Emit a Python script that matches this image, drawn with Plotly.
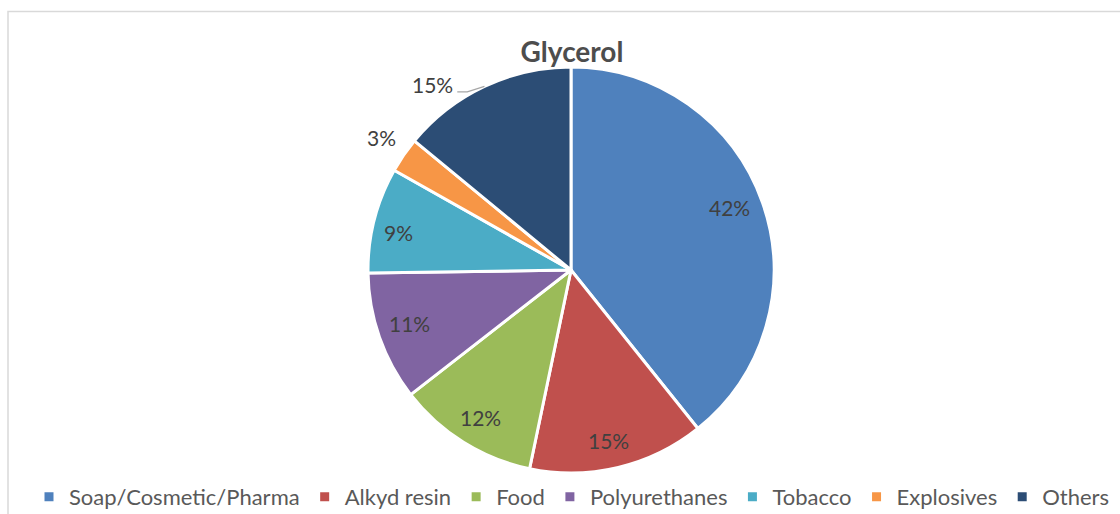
import math
import plotly.graph_objects as go

# Glycerol end-use shares (percent)
categories = ["Soap/Cosmetic/Pharma", "Alkyd resin", "Food", "Polyurethanes",
              "Tobacco", "Explosives", "Others"]
shares = [42, 15, 12, 11, 9, 3, 15]
colors = ["#4F81BD", "#C0504D", "#9BBB59", "#8064A2", "#4BACC6", "#F79646", "#2C4D75"]

# data-label placement: radial factor (x radius) and angular nudge (degrees)
label_radius = [0.84, 0.86, 0.85, 0.84, 0.87, 1.14, 1.14]
label_nudge = [-2, 1, -0.5, 1, -2, 0.5, -11.6]
leader_line = [False, False, False, False, False, False, True]

W, H = 1120, 514
cx, cy, R = 571, 270, 203
LABEL_FONT = dict(family="Lato", size=21, color="#404040")

fig = go.Figure(go.Pie(
    labels=categories,
    values=shares,
    sort=False,
    direction="clockwise",
    rotation=0,
    marker=dict(colors=colors, line=dict(color="white", width=3)),
    textposition="none",
    hoverinfo="label+value",
    domain=dict(x=[(cx - R) / W, (cx + R) / W], y=[1 - (cy + R) / H, 1 - (cy - R) / H]),
))


def to_paper(px, py):
    return px / W, 1 - py / H


# value labels placed around the pie at each slice's mid-angle
total = sum(shares)
annotations = []
shapes = []
cum = 0
for val, rf, nudge, lead in zip(shares, label_radius, label_nudge, leader_line):
    mid = (cum + val / 2) / total * 360
    cum += val
    ang = math.radians(mid + nudge)
    lx = cx + rf * R * math.sin(ang)
    ly = cy - rf * R * math.cos(ang)
    px, py = to_paper(lx, ly)
    annotations.append(dict(x=px, y=py, xref="paper", yref="paper", text=f"{val}%",
                            showarrow=False, xanchor="center", yanchor="middle",
                            font=LABEL_FONT))
    if lead:
        m = math.radians(mid)
        ex, ey = cx + R * math.sin(m), cy - R * math.cos(m)
        sx, sy = lx + 25, ly + 7
        pts = [to_paper(sx, sy), to_paper(sx + 10, sy), to_paper(ex, ey)]
        path = "M " + " L ".join(f"{a},{b}" for a, b in pts)
        shapes.append(dict(type="path", xref="paper", yref="paper", path=path,
                           line=dict(color="#A6A6A6", width=1.2)))

# chart-area frame
shapes.append(dict(type="rect", xref="paper", yref="paper",
                   x0=8 / W, x1=1.05, y0=-0.05, y1=1 - 11.5 / H,
                   line=dict(color="#D9D9D9", width=1.5)))

fig.update_layout(
    width=W, height=H,
    margin=dict(l=0, r=0, t=0, b=0, autoexpand=False),
    paper_bgcolor="white",
    title=dict(text="<b>Glycerol</b>", x=572 / W, xanchor="center", y=1 - 52 / H, yanchor="middle",
               font=dict(family="Lato", size=28, color="#4D4D4D")),
    legend=dict(orientation="h", x=572 / W, xanchor="center", y=1 - 497 / H, yanchor="middle",
                font=dict(family="Lato", size=22, color="#595959"),
                traceorder="normal"),
    annotations=annotations,
    shapes=shapes,
)

fig.write_html("out.html")
